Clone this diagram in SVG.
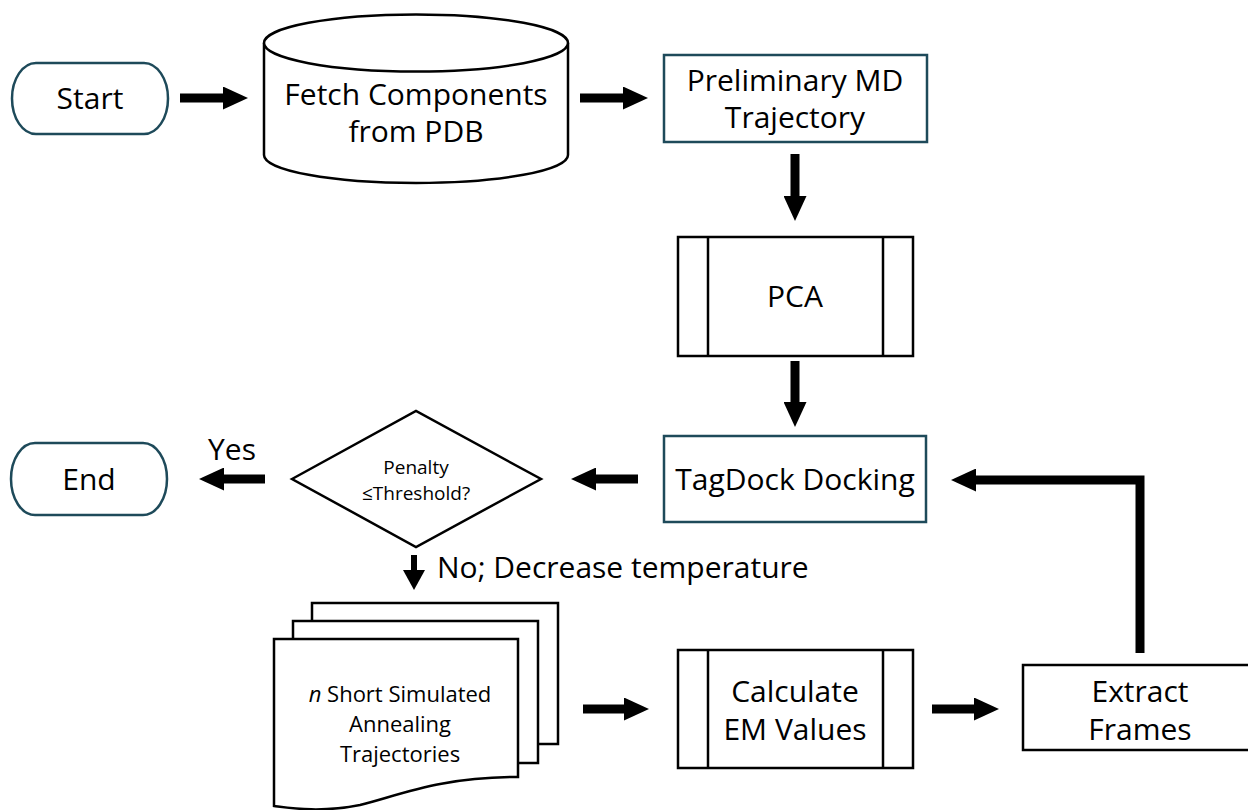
<svg xmlns="http://www.w3.org/2000/svg" width="1248" height="810" viewBox="0 0 1248 810">
  <defs>
    <style>
      .lbl { font-family: "Open Sans", "Noto Sans", "Liberation Sans", sans-serif; font-size: 30px; fill: #000; text-anchor: middle; }
      .sm { font-size: 19px; }
      .md { font-size: 22px; }
      .teal { fill: #fff; stroke: #1e4a5a; stroke-width: 2.5; }
      .blk { fill: #fff; stroke: #000; stroke-width: 2.5; }
      .conn { fill: none; stroke: #000; stroke-width: 9; stroke-linejoin: miter; }
      .conn-s { fill: none; stroke: #000; stroke-width: 6; }
    </style>
    <marker id="ah" markerUnits="userSpaceOnUse" markerWidth="25" markerHeight="23" refX="1" refY="11.5" orient="auto">
      <path d="M0,0 L25,11.5 L0,23 z" fill="#000"/>
    </marker>
    <marker id="ahs" markerUnits="userSpaceOnUse" markerWidth="20" markerHeight="22" refX="1" refY="11" orient="auto">
      <path d="M0,0 L20,11 L0,22 z" fill="#000"/>
    </marker>
  </defs>
  <rect width="1248" height="810" fill="#fff"/>

  <g id="connectors">
    <line class="conn" x1="180" y1="98" x2="224" y2="98" marker-end="url(#ah)"/>
    <line class="conn" x1="580" y1="98" x2="624" y2="98" marker-end="url(#ah)"/>
    <line class="conn" x1="795" y1="154" x2="795" y2="197" marker-end="url(#ah)"/>
    <line class="conn" x1="795" y1="361" x2="795" y2="403" marker-end="url(#ah)"/>
    <line class="conn" x1="638" y1="479" x2="595" y2="479" marker-end="url(#ah)"/>
    <line class="conn" x1="265" y1="479" x2="223" y2="479" marker-end="url(#ah)"/>
    <line class="conn-s" x1="414" y1="555" x2="414" y2="571" marker-end="url(#ahs)"/>
    <line class="conn" x1="583" y1="709" x2="625" y2="709" marker-end="url(#ah)"/>
    <line class="conn" x1="932" y1="709" x2="975" y2="709" marker-end="url(#ah)"/>
    <path class="conn" d="M1140,653 V480 H975" marker-end="url(#ah)"/>
  </g>

  <g id="start">
    <rect class="teal" x="12" y="63" width="156" height="71" rx="24" ry="35.5"/>
    <text class="lbl" x="90" y="109">Start</text>
  </g>

  <g id="fetch">
    <path class="blk" d="M264,43 V155 A152,28 0 0 0 568,155 V43"/>
    <ellipse class="blk" cx="416" cy="43" rx="152" ry="28.5"/>
    <text class="lbl" x="416" y="105">Fetch Components</text>
    <text class="lbl" x="416" y="142">from PDB</text>
  </g>

  <g id="prelim">
    <rect class="teal" x="664" y="55" width="263" height="87"/>
    <text class="lbl" x="795" y="91">Preliminary MD</text>
    <text class="lbl" x="795" y="128">Trajectory</text>
  </g>

  <g id="pca">
    <rect class="blk" x="678" y="237" width="235" height="119"/>
    <line x1="708" y1="237" x2="708" y2="356" stroke="#000" stroke-width="2.5"/>
    <line x1="883" y1="237" x2="883" y2="356" stroke="#000" stroke-width="2.5"/>
    <text class="lbl" x="795" y="307">PCA</text>
  </g>

  <g id="tagdock">
    <rect class="teal" x="664" y="436" width="262" height="86"/>
    <text class="lbl" x="795" y="490">TagDock Docking</text>
  </g>

  <g id="decision">
    <polygon class="blk" points="292,479 416,411 541,479 416,547"/>
    <text class="lbl sm" x="416" y="474">Penalty</text>
    <text class="lbl sm" x="416" y="500">≤Threshold?</text>
  </g>

  <g id="end">
    <rect class="teal" x="11" y="443" width="156" height="72" rx="24" ry="36"/>
    <text class="lbl" x="89" y="490">End</text>
  </g>

  <g id="label-yes">
    <text class="lbl" x="232" y="460">Yes</text>
  </g>

  <g id="label-no">
    <text class="lbl" x="437" y="578" text-anchor="start" style="text-anchor:start">No; Decrease temperature</text>
  </g>

  <g id="trajectories">
    <rect class="blk" x="312" y="603" width="246" height="141"/>
    <rect class="blk" x="293" y="621" width="245" height="142"/>
    <path class="blk" d="M274,639 H518 V777 C440,777 400,795 360,805 C320,813 290,808 274,806 Z"/>
    <text class="lbl md" x="400" y="702"><tspan font-style="italic">n</tspan> Short Simulated</text>
    <text class="lbl md" x="400" y="732">Annealing</text>
    <text class="lbl md" x="400" y="762">Trajectories</text>
  </g>

  <g id="calcem">
    <rect class="blk" x="678" y="650" width="235" height="118"/>
    <line x1="708" y1="650" x2="708" y2="768" stroke="#000" stroke-width="2.5"/>
    <line x1="883" y1="650" x2="883" y2="768" stroke="#000" stroke-width="2.5"/>
    <text class="lbl" x="795" y="702">Calculate</text>
    <text class="lbl" x="795" y="740">EM Values</text>
  </g>

  <g id="extract">
    <rect class="blk" x="1023" y="665" width="234" height="85"/>
    <text class="lbl" x="1140" y="702">Extract</text>
    <text class="lbl" x="1140" y="740">Frames</text>
  </g>
</svg>
